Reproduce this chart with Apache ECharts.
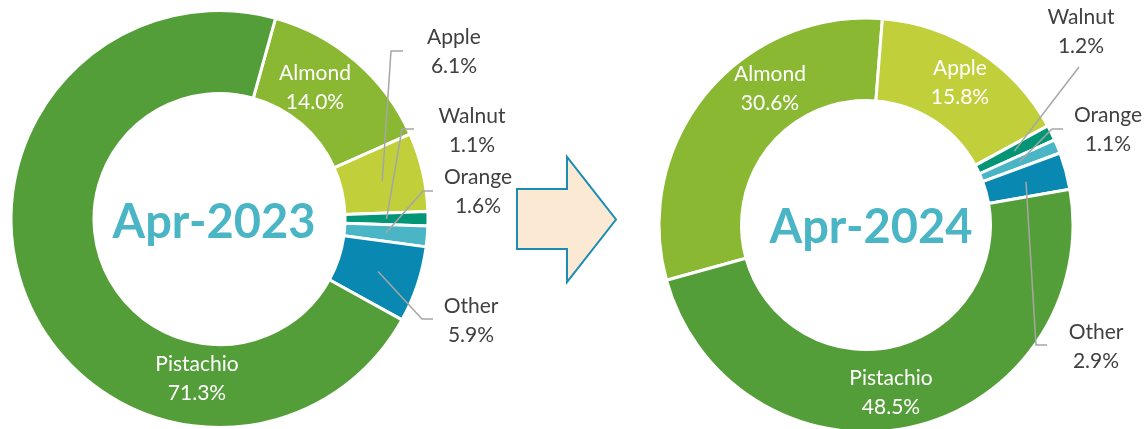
<!DOCTYPE html>
<html>
<head>
<meta charset="utf-8">
<script src="https://cdn.jsdelivr.net/npm/echarts@6/dist/echarts.min.js"></script>
<style>
  html, body { margin: 0; padding: 0; background: #fff; }
  #chart { width: 1145px; height: 429px; }
</style>
</head>
<body>
<div id="chart"></div>
<script>
const categories = ["Almond", "Apple", "Walnut", "Orange", "Other", "Pistachio"];
const share2023 = [14.0, 6.1, 1.1, 1.6, 5.9, 71.3];
const share2024 = [30.6, 15.8, 1.2, 1.1, 2.9, 48.5];
const periodLabels = ["Apr-2023", "Apr-2024"];
const sliceColors = ["#8AB833", "#C0CF3A", "#029676", "#4AB5C4", "#0989B1", "#549E39"];

const FONT = "Lato, 'Noto Sans', sans-serif";

// geometry + label placement for each donut (label: [x, y, elbowX, elbowY, endX])
const donuts = [
  {
    values: share2023, title: periodLabels[0],
    cx: 219.5, cy: 219, r0: 125.5, r: 208.5, startAngle: 74.4,
    titlePos: [214, 223],
    inside: ["Almond", "Pistachio"],
    labels: {
      Almond: [315, 88],
      Apple: [454, 52, 391, 51, 403],
      Walnut: [472, 131, 402, 129, 414],
      Orange: [478, 192, 423, 191, 433],
      Other: [471, 321, 422, 319, 433],
      Pistachio: [197, 379],
    },
  },
  {
    values: share2024, title: periodLabels[1],
    cx: 866, cy: 225, r0: 124.5, r: 207, startAngle: 195.5,
    titlePos: [871, 228],
    inside: ["Almond", "Apple", "Pistachio"],
    labels: {
      Almond: [770, 89],
      Apple: [960, 83],
      Walnut: [1081, 32, 1079, 67, 1079],
      Orange: [1108, 130, 1052, 129, 1063],
      Other: [1096, 347, 1036, 345, 1047],
      Pistachio: [891, 393],
    },
  },
];

function midPoint(d, idx) {
  const total = d.values.reduce((a, b) => a + b, 0);
  let cum = 0;
  for (let i = 0; i < idx; i++) cum += d.values[i];
  const a = (d.startAngle - 360 * (cum + d.values[idx] / 2) / total) * Math.PI / 180;
  const rm = (d.r + d.r0) / 2;
  return [d.cx + rm * Math.cos(a), d.cy - rm * Math.sin(a)];
}

const labelText = {
  fontFamily: FONT,
  fontSize: 21,
  lineHeight: 29,
  align: "center",
  formatter: (p) => `${p.name}\n${p.value.toFixed(1)}%`,
};

function placeLabel(d) {
  return (p) => {
    const pos = d.labels[categories[p.dataIndex]];
    const out = { x: pos[0], y: pos[1], align: "center", verticalAlign: "middle" };
    if (pos.length > 2) {
      out.labelLinePoints = [midPoint(d, p.dataIndex), [pos[2], pos[3]], [pos[4], pos[3]]];
    }
    return out;
  };
}

const series = [];
donuts.forEach((d) => {
  const common = {
    type: "pie",
    center: [d.cx, d.cy],
    radius: [d.r0, d.r],
    startAngle: d.startAngle,
    clockwise: true,
    avoidLabelOverlap: false,
    silent: true,
    animation: false,
  };
  // coloured ring with the white labels inside the slices
  series.push({
    ...common,
    z: 2,
    itemStyle: { borderColor: "#fff", borderWidth: 3 },
    label: { ...labelText, position: "inside", color: "#fff" },
    labelLine: { show: false },
    labelLayout: placeLabel(d),
    data: categories.map((name, i) => ({
      name,
      value: d.values[i],
      itemStyle: { color: sliceColors[i] },
      label: { show: d.inside.includes(name) },
    })),
  });
  // transparent overlay carrying the callout labels so leader lines sit on top
  series.push({
    ...common,
    z: 3,
    itemStyle: { color: "rgba(0,0,0,0)", borderWidth: 0 },
    label: { ...labelText, position: "outside", color: "#404040" },
    labelLine: { show: true, lineStyle: { color: "#A6A6A6", width: 1.5 } },
    labelLayout: placeLabel(d),
    data: categories.map((name, i) => {
      const shown = !d.inside.includes(name);
      return {
        name,
        value: d.values[i],
        label: { show: shown },
        labelLine: { show: shown },
      };
    }),
  });
});

const graphic = donuts.map((d) => ({
  type: "text",
  x: d.titlePos[0],
  y: d.titlePos[1],
  z: 10,
  style: {
    text: d.title,
    fill: "#4AB5C4",
    font: `bold 47px ${FONT}`,
    align: "center",
    verticalAlign: "middle",
  },
  silent: true,
}));

graphic.push({
  type: "polygon",
  shape: {
    points: [[517, 189], [567, 189], [567, 157], [616, 219.5], [567, 282], [567, 249], [517, 249]],
  },
  style: { fill: "#FBE9D3", stroke: "#1B8CB3", lineWidth: 2 },
  silent: true,
});

const chart = echarts.init(document.getElementById("chart"));
chart.setOption({
  animation: false,
  series,
  graphic,
});
</script>
</body>
</html>
